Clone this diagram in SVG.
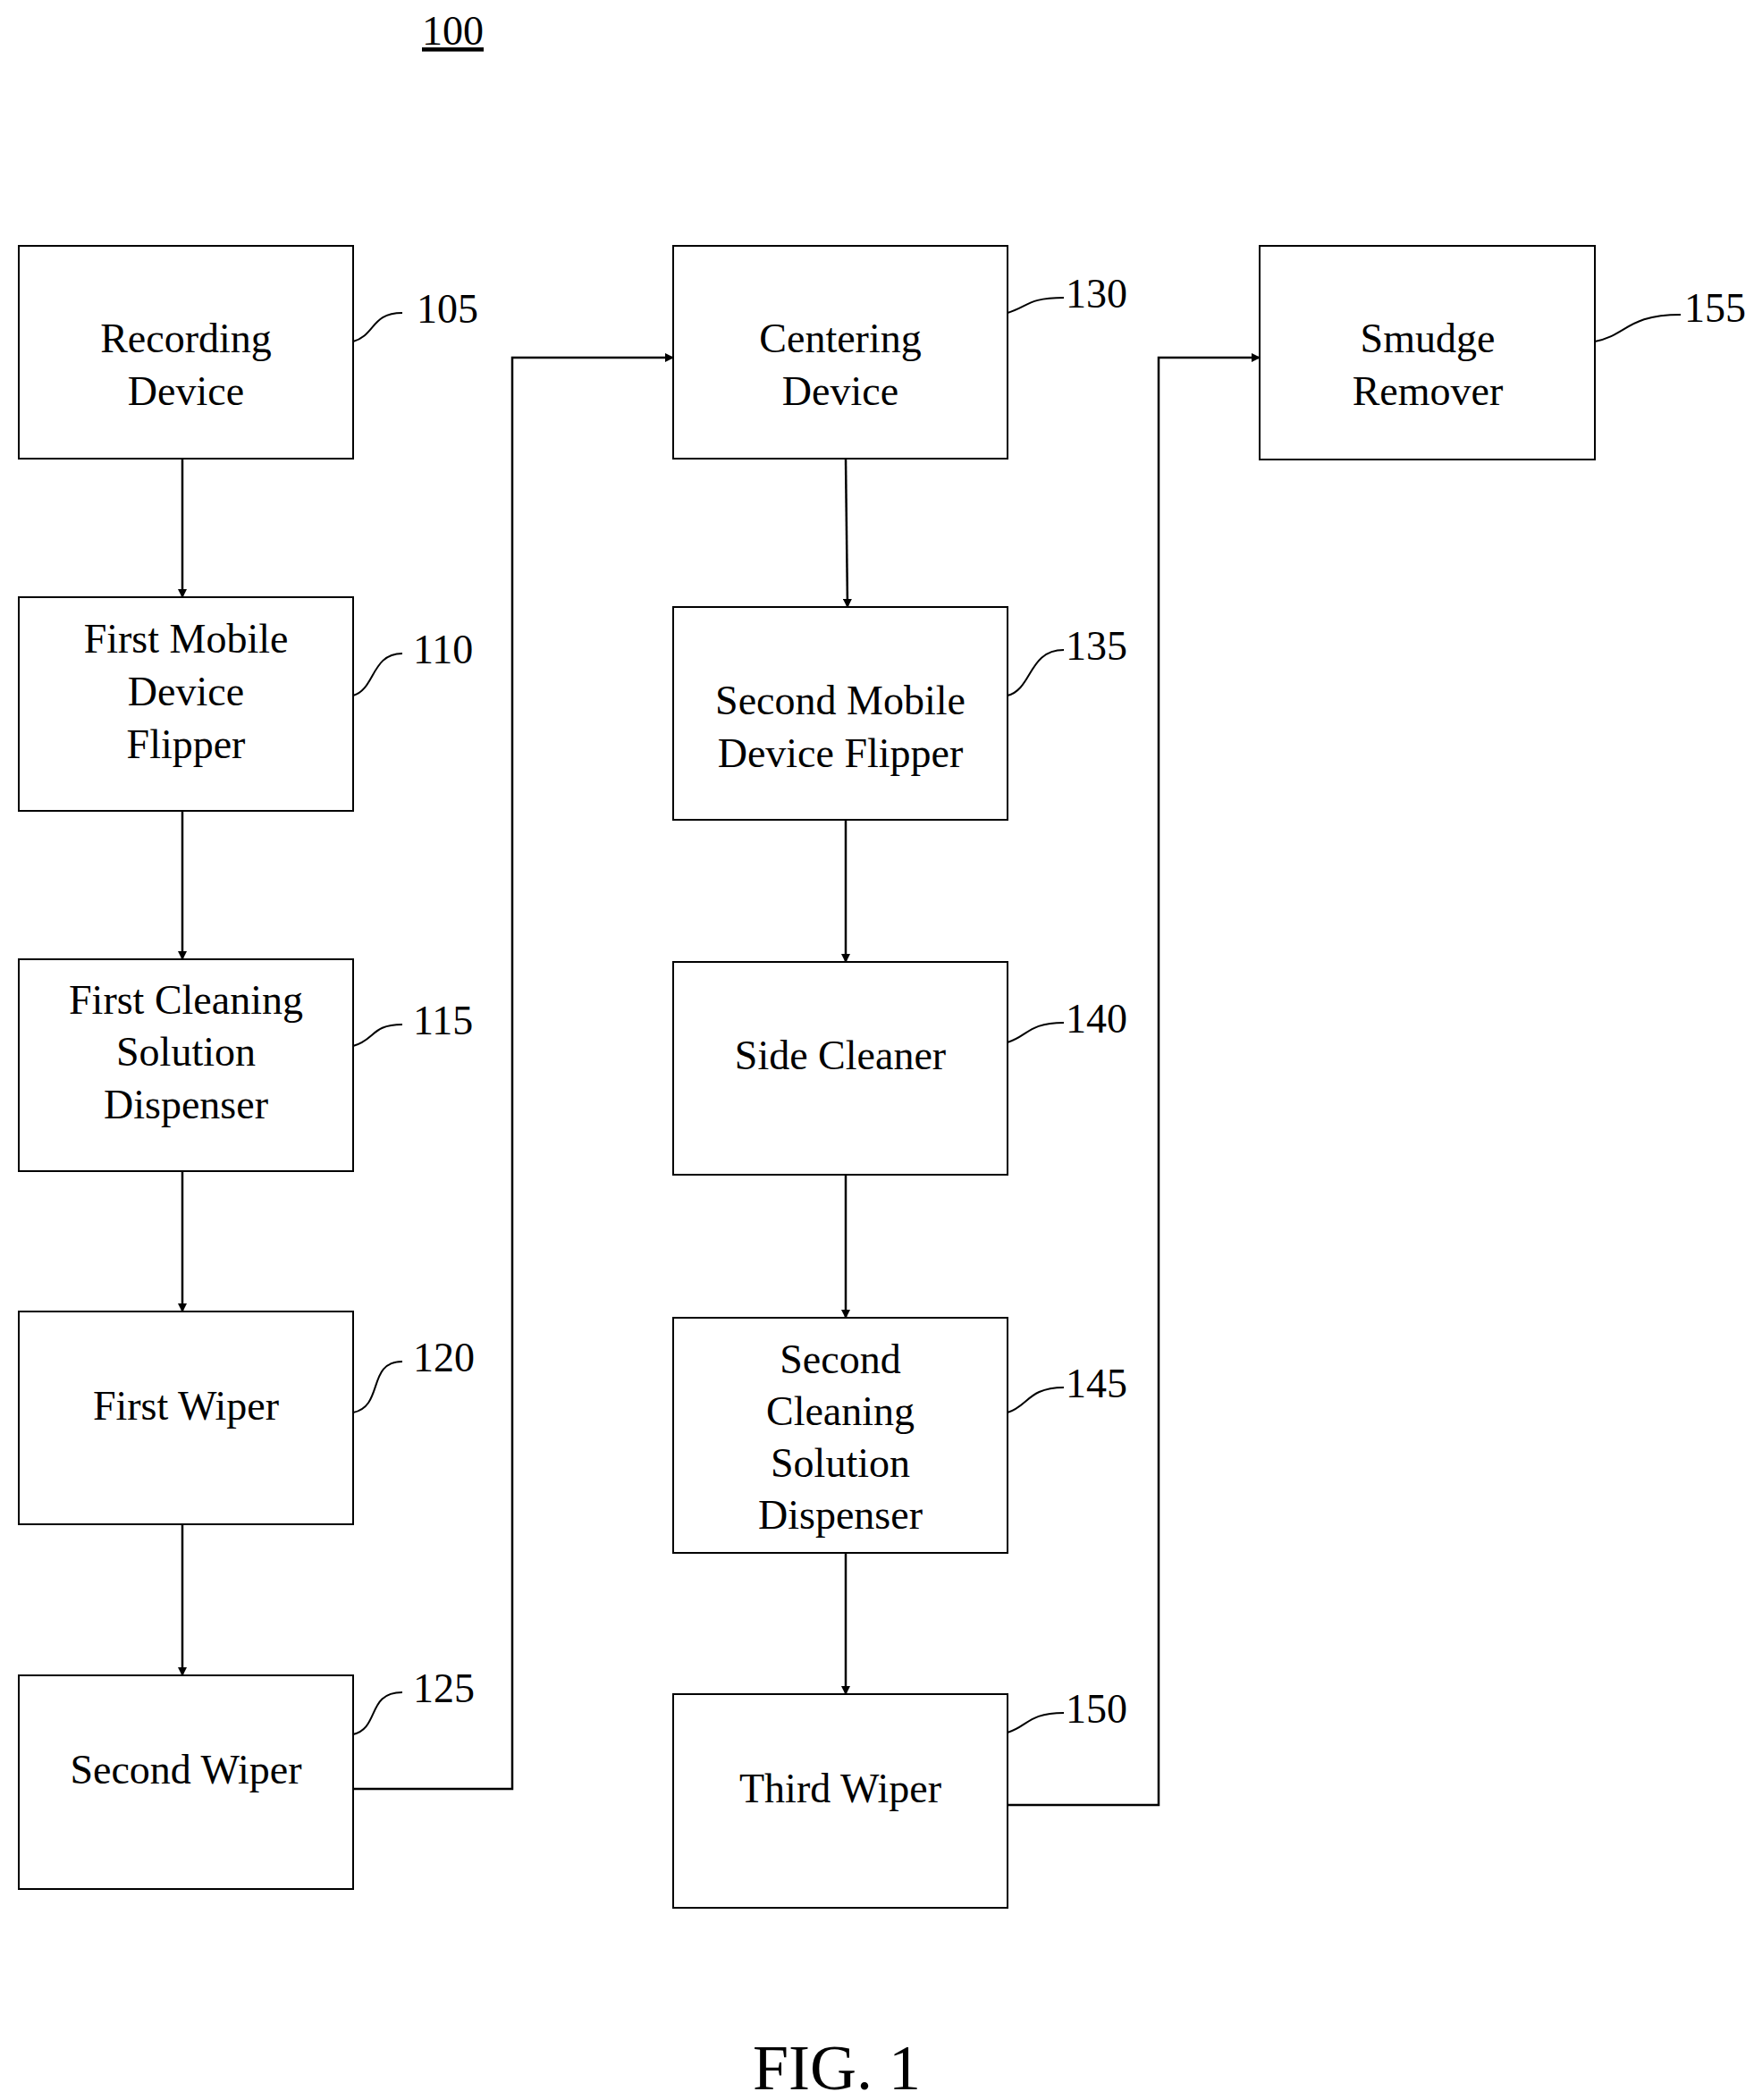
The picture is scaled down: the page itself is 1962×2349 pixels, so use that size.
<svg xmlns="http://www.w3.org/2000/svg" width="1962" height="2349" viewBox="0 0 1962 2349">
<style>
.b{fill:#fff;stroke:#000;stroke-width:2}
.t{font-family:"Liberation Serif",serif;font-size:46px;text-anchor:middle;fill:#000}
.n{font-family:"Liberation Serif",serif;font-size:46px;fill:#000}
.c{fill:none;stroke:#000;stroke-width:2.5}
.l{fill:none;stroke:#000;stroke-width:2}
</style>
<defs><marker id="a" markerWidth="10" markerHeight="10" refX="9" refY="5" orient="auto" markerUnits="userSpaceOnUse" viewBox="0 0 10 10"><path d="M0,0L10,5L0,10z"/></marker></defs>
<text class="n" x="472" y="50" text-decoration="underline">100</text>
<g id="n105"><rect class="b" x="21" y="275" width="374" height="238"/><text class="t" x="208" y="394">Recording</text><text class="t" x="208" y="453">Device</text><path class="l" d="M395,382C420,375 415,350 450,350"/><text class="n" x="466" y="361">105</text></g>
<g id="n110"><rect class="b" x="21" y="668" width="374" height="239"/><text class="t" x="208" y="730">First Mobile</text><text class="t" x="208" y="789">Device</text><text class="t" x="208" y="848">Flipper</text><path class="l" d="M395,778C420,771 415,731 450,731"/><text class="n" x="462" y="742">110</text></g>
<g id="n115"><rect class="b" x="21" y="1073" width="374" height="237"/><text class="t" x="208" y="1134">First Cleaning</text><text class="t" x="208" y="1192">Solution</text><text class="t" x="208" y="1251">Dispenser</text><path class="l" d="M395,1170C420,1163 415,1146 450,1146"/><text class="n" x="462" y="1157">115</text></g>
<g id="n120"><rect class="b" x="21" y="1467" width="374" height="238"/><text class="t" x="208" y="1588">First Wiper</text><path class="l" d="M395,1580C430,1573 410,1523 450,1523"/><text class="n" x="462" y="1534">120</text></g>
<g id="n125"><rect class="b" x="21" y="1874" width="374" height="239"/><text class="t" x="208" y="1995">Second Wiper</text><path class="l" d="M395,1940C425,1933 410,1893 450,1893"/><text class="n" x="462" y="1904">125</text></g>
<g id="n130"><rect class="b" x="753" y="275" width="374" height="238"/><text class="t" x="940" y="394">Centering</text><text class="t" x="940" y="453">Device</text><path class="l" d="M1127,350C1150,343 1150,333 1190,333"/><text class="n" x="1192" y="344">130</text></g>
<g id="n135"><rect class="b" x="753" y="679" width="374" height="238"/><text class="t" x="940" y="799">Second Mobile</text><text class="t" x="940" y="858">Device Flipper</text><path class="l" d="M1127,778C1155,771 1150,727 1190,727"/><text class="n" x="1192" y="738">135</text></g>
<g id="n140"><rect class="b" x="753" y="1076" width="374" height="238"/><text class="t" x="940" y="1196">Side Cleaner</text><path class="l" d="M1127,1166C1150,1159 1150,1144 1190,1144"/><text class="n" x="1192" y="1155">140</text></g>
<g id="n145"><rect class="b" x="753" y="1474" width="374" height="263"/><text class="t" x="940" y="1536">Second</text><text class="t" x="940" y="1594">Cleaning</text><text class="t" x="940" y="1652">Solution</text><text class="t" x="940" y="1710">Dispenser</text><path class="l" d="M1127,1580C1150,1573 1150,1552 1190,1552"/><text class="n" x="1192" y="1563">145</text></g>
<g id="n150"><rect class="b" x="753" y="1895" width="374" height="239"/><text class="t" x="940" y="2016">Third Wiper</text><path class="l" d="M1127,1938C1150,1931 1150,1916 1190,1916"/><text class="n" x="1192" y="1927">150</text></g>
<g id="n155"><rect class="b" x="1409" y="275" width="375" height="239"/><text class="t" x="1597" y="394">Smudge</text><text class="t" x="1597" y="453">Remover</text><path class="l" d="M1784,382C1820,375 1820,352 1880,352"/><text class="n" x="1884" y="360">155</text></g>
<g id="connectors">
<path class="c" marker-end="url(#a)" d="M204,513V668"/>
<path class="c" marker-end="url(#a)" d="M204,907V1073"/>
<path class="c" marker-end="url(#a)" d="M204,1310V1467"/>
<path class="c" marker-end="url(#a)" d="M204,1705V1874"/>
<path class="c" marker-end="url(#a)" d="M395,2001H573V400H753"/>
<path class="c" marker-end="url(#a)" d="M946,513L948,679"/>
<path class="c" marker-end="url(#a)" d="M946,917V1076"/>
<path class="c" marker-end="url(#a)" d="M946,1314V1474"/>
<path class="c" marker-end="url(#a)" d="M946,1737V1895"/>
<path class="c" marker-end="url(#a)" d="M1127,2019H1296V400H1409"/>
</g>
<text class="t" x="936" y="2337" style="font-size:72px">FIG. 1</text>
</svg>
